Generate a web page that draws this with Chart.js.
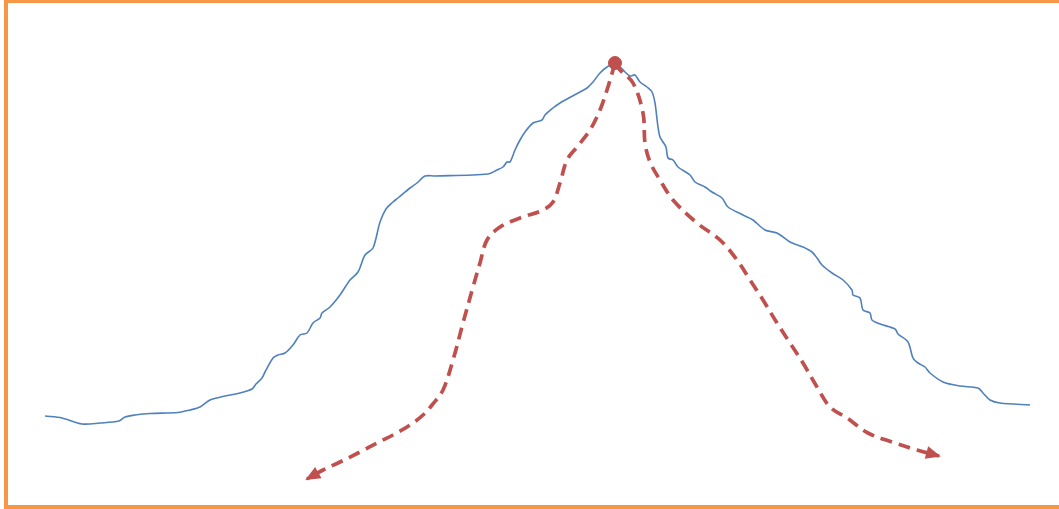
<!DOCTYPE html>
<html>
<head>
<meta charset="utf-8">
<script src="https://cdn.jsdelivr.net/npm/chart.js@4"></script>
<style>
  html, body { margin: 0; padding: 0; background: #fff; }
  canvas { display: block; }
</style>
</head>
<body>
<canvas id="profileChart" width="1059" height="509"></canvas>
<script>
// profile: distance along the section and height above the base line
const profileX = [45, 62, 82, 100, 119, 125, 135, 150, 178, 190, 200, 210, 225, 240, 252, 256, 262, 265, 273, 278, 285, 293, 300, 307, 313, 320, 322, 330, 340, 350, 358, 365, 373, 380, 386, 393, 398, 410, 417, 425, 435, 488, 497, 503, 507, 510, 515, 520, 525, 533, 542, 545, 553, 560, 567, 580, 587, 593, 600, 607, 614, 620, 625, 630, 635, 640, 647, 652, 655, 658, 660, 663, 666, 668, 673, 678, 690, 695, 705, 712, 722, 728, 743, 753, 765, 777, 790, 803, 812, 817, 822, 832, 843, 852, 853, 860, 863, 870, 872, 880, 895, 898, 908, 913, 918, 925, 930, 943, 960, 978, 983, 990, 1000, 1030];
const profileY = [93, 91, 85, 86, 88, 92, 94, 95.5, 96.5, 99, 102, 109, 113, 116, 120, 125, 131, 137, 151, 154, 156, 164, 174, 176, 186, 191, 196, 202, 214, 229, 237, 254, 261, 287, 300, 307, 311, 321, 326, 333, 333, 335, 339, 342, 347, 347, 359, 369, 377, 386, 389, 394, 401, 406, 410, 417, 421, 427, 436, 442, 445, 442, 437, 433, 434, 427, 422, 417, 406, 382, 372, 367, 362, 351, 349, 342, 334, 327, 322, 317, 311, 302, 294, 289, 279, 276, 267, 262, 257, 251, 244, 236, 229, 219, 214, 211, 199, 196, 189, 185, 180, 175, 167, 151, 146, 142, 136, 127, 123, 121, 116, 109, 106, 104];

// routes down from the summit
const summit = { x: 615, y: 446 };
const leftRouteX = [615, 613, 607, 600, 590, 577, 567, 560, 553, 543, 520, 500, 487, 480, 473, 463, 453, 443, 432, 423, 410, 393, 377, 360, 340, 323, 307];
const leftRouteY = [446, 439, 419, 399, 379, 362, 349, 326, 307, 299, 291, 282, 269, 246, 222, 186, 149, 119, 104, 94, 84, 74, 66, 57, 47, 39, 30];
const rightRouteX = [615, 620, 633, 643, 645, 650, 660, 673, 697, 720, 737, 750, 763, 777, 790, 803, 817, 830, 847, 868, 892, 917, 939];
const rightRouteY = [446, 439, 426, 396, 366, 347, 329, 309, 286, 269, 249, 229, 209, 186, 166, 146, 122, 102, 91, 76, 67, 59, 53];

const toPoints = (xs, ys) => xs.map((x, i) => ({ x: x, y: ys[i] }));

const blue = '#4F81BD';
const red = '#C0504D';
const orange = '#F79646';

// arrow heads at the end of each route + frame around the picture
const decorPlugin = {
    id: 'decor',
    afterDatasetsDraw(chart) {
        const c = chart.ctx;
        const xs = chart.scales.x, ys = chart.scales.y;
        [1, 2].forEach(idx => {
            const d = chart.data.datasets[idx].data;
            const a = d[d.length - 2], b = d[d.length - 1];
            const ax = xs.getPixelForValue(a.x), ay = ys.getPixelForValue(a.y);
            const bx = xs.getPixelForValue(b.x), by = ys.getPixelForValue(b.y);
            const ang = Math.atan2(by - ay, bx - ax);
            c.save();
            c.translate(bx, by);
            c.rotate(ang);
            c.fillStyle = red;
            c.beginPath();
            c.moveTo(2, 0);
            c.lineTo(-13, -6.5);
            c.lineTo(-13, 6.5);
            c.closePath();
            c.fill();
            c.restore();
        });
        c.save();
        c.strokeStyle = orange;
        c.lineWidth = 4;
        c.strokeRect(6, 1, 1070, 506);
        c.restore();
    }
};

const ctx = document.getElementById('profileChart').getContext('2d');
const profileChart = new Chart(ctx, {
    type: 'scatter',
    data: {
        datasets: [
            {
                data: toPoints(profileX, profileY),
                showLine: true,
                borderColor: blue,
                borderWidth: 1.6,
                pointRadius: 0,
                tension: 0.3,
                order: 3
            },
            {
                data: toPoints(leftRouteX, leftRouteY),
                showLine: true,
                borderColor: red,
                borderWidth: 3.7,
                borderDash: [12, 7],
                pointRadius: 0,
                tension: 0.35,
                order: 2
            },
            {
                data: toPoints(rightRouteX, rightRouteY),
                showLine: true,
                borderColor: red,
                borderWidth: 3.7,
                borderDash: [12, 7],
                pointRadius: 0,
                tension: 0.35,
                order: 2
            },
            {
                // summit marker, drawn on top
                data: [summit],
                backgroundColor: red,
                borderColor: red,
                pointRadius: 6.5,
                pointHoverRadius: 6.5,
                order: 0
            }
        ]
    },
    options: {
        responsive: false,
        animation: false,
        layout: { padding: 0, autoPadding: false },
        plugins: {
            legend: { display: false },
            tooltip: { enabled: false }
        },
        scales: {
            x: { type: 'linear', min: 0, max: 1059, display: false },
            y: { type: 'linear', min: 0, max: 509, display: false }
        }
    },
    plugins: [decorPlugin]
});
</script>
</body>
</html>
